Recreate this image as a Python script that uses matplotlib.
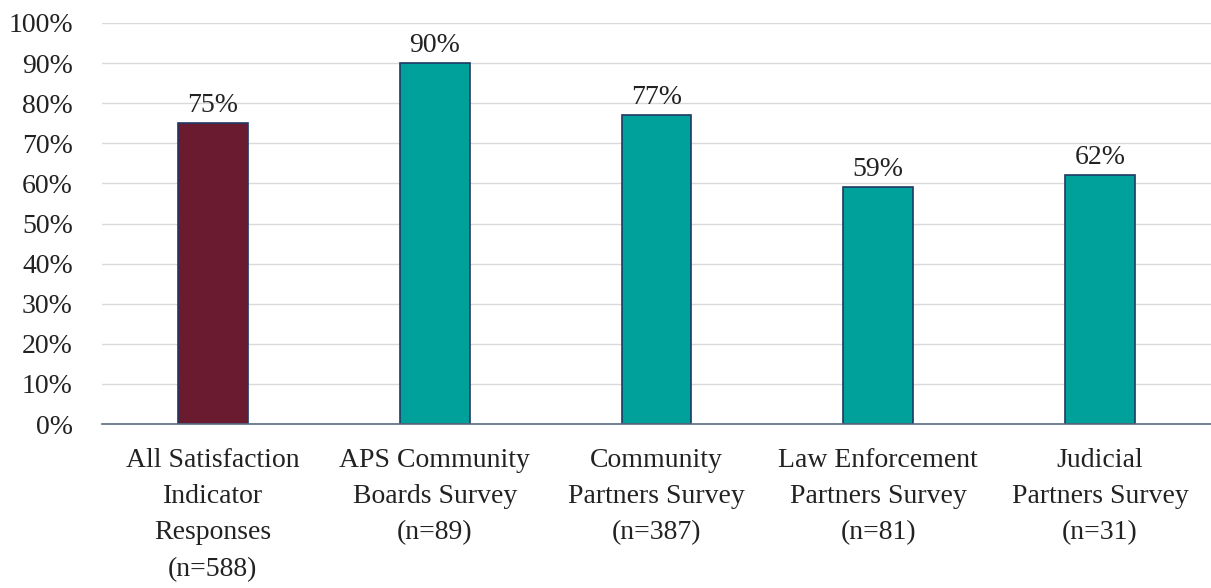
import matplotlib.pyplot as plt

categories = [
    "All Satisfaction\nIndicator\nResponses\n(n=588)",
    "APS Community\nBoards Survey\n(n=89)",
    "Community\nPartners Survey\n(n=387)",
    "Law Enforcement\nPartners Survey\n(n=81)",
    "Judicial\nPartners Survey\n(n=31)",
]
values = [75, 90, 77, 59, 62]
colors = ["#6A1B2F", "#00A19A", "#00A19A", "#00A19A", "#00A19A"]
yticks = list(range(0, 101, 10))

plt.rcParams["font.family"] = ["Liberation Serif", "DejaVu Serif"]
fs = 20

fig = plt.figure(figsize=(12.11, 5.88), dpi=100)
ax = fig.add_axes([102 / 1211, 164 / 588, 1 - 102 / 1211, 401 / 588])

x = list(range(len(categories)))
ax.bar(x, values, width=0.315, color=colors, edgecolor="#1F3864", linewidth=1.2, zorder=3)
for xi, v in zip(x, values):
    ax.annotate(f"{v}%", (xi, v), xytext=(0, 4), textcoords="offset points",
                ha="center", va="bottom", fontsize=fs, color="#222222")

ax.set_xlim(-0.5, len(categories) - 0.5)
ax.set_ylim(0, 100)
ax.set_yticks(yticks)
ax.set_yticklabels([f"{t}%" for t in yticks], fontsize=fs, color="#222222")
ax.set_xticks(x)
ax.set_xticklabels(categories, fontsize=fs, color="#222222", linespacing=1.6)
ax.tick_params(axis="both", length=0)
ax.tick_params(axis="x", pad=17)
ax.tick_params(axis="y", pad=21)

ax.grid(axis="y", color="#D9D9D9", linewidth=1, zorder=0)
for side in ["top", "right", "left"]:
    ax.spines[side].set_visible(False)
ax.spines["bottom"].set_color("#5B6B80")
ax.spines["bottom"].set_linewidth(1.2)
ax.spines["bottom"].set_zorder(4)

fig.savefig("out.png", dpi=100)
